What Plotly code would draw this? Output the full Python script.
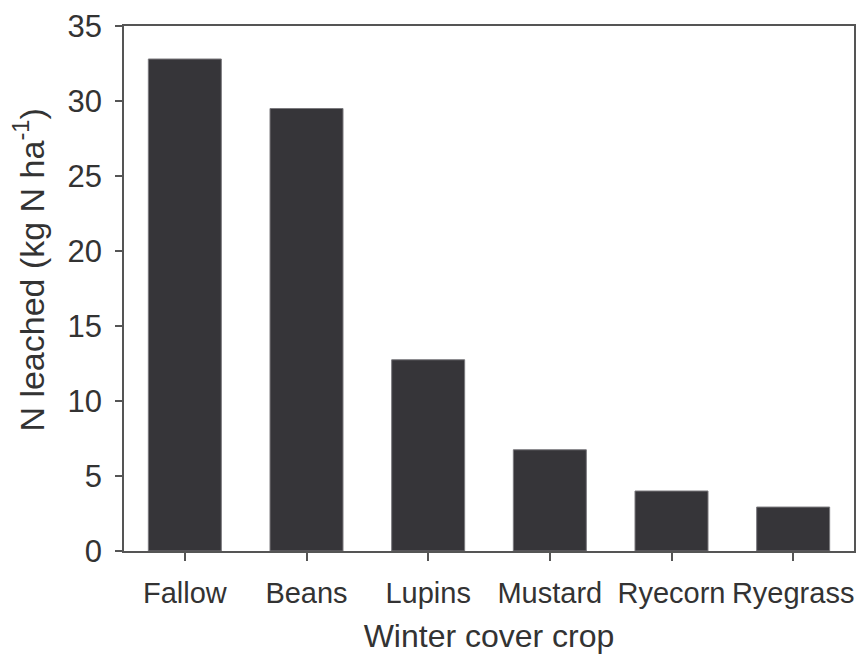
import plotly.graph_objects as go

crops = ["Fallow", "Beans", "Lupins", "Mustard", "Ryecorn", "Ryegrass"]
n_leached = [32.8, 29.5, 12.75, 6.75, 4.0, 2.93]
y_ticks = [0, 5, 10, 15, 20, 25, 30, 35]

font_family = "Liberation Sans, Arial, Helvetica, sans-serif"
text_color = "#333333"
axis_color = "#555555"

fig = go.Figure(
    go.Bar(
        x=crops,
        y=n_leached,
        width=0.6,
        marker=dict(color="#363539", line=dict(color="#7a797d", width=1)),
    )
)

fig.update_layout(
    width=858,
    height=656,
    margin=dict(l=124, r=4, t=26, b=105, autoexpand=False),
    paper_bgcolor="white",
    plot_bgcolor="white",
    showlegend=False,
    font=dict(family=font_family, color=text_color),
)

fig.update_xaxes(
    range=[-0.5, 5.5],
    automargin=False,
    showline=True,
    linecolor=axis_color,
    linewidth=1.5,
    mirror=True,
    ticks="outside",
    ticklen=8,
    tickcolor=axis_color,
    tickwidth=1.5,
    tickfont=dict(size=29, color=text_color),
    ticklabelstandoff=7,
    title=dict(text="Winter cover crop", font=dict(size=32, color=text_color), standoff=17),
    showgrid=False,
    zeroline=False,
)

fig.update_yaxes(
    range=[0, 35],
    automargin=False,
    tickvals=y_ticks,
    showline=True,
    linecolor=axis_color,
    linewidth=1.5,
    mirror=True,
    ticks="outside",
    ticklen=7,
    tickcolor=axis_color,
    tickwidth=1.5,
    tickfont=dict(size=31, color=text_color),
    ticklabelstandoff=7,
    showgrid=False,
    zeroline=False,
)

fig.add_annotation(
    text="N leached (kg N ha<sup>-1</sup>)",
    xref="paper", yref="paper",
    x=0, y=0.536,
    xanchor="center", yanchor="middle",
    xshift=-95,
    textangle=-90,
    showarrow=False,
    font=dict(size=34, color=text_color, family=font_family),
)

fig.write_html(
    "out.html",
    config={"displayModeBar": False},
    post_script="document.body.style.margin='0';document.body.style.overflow='hidden';",
)
